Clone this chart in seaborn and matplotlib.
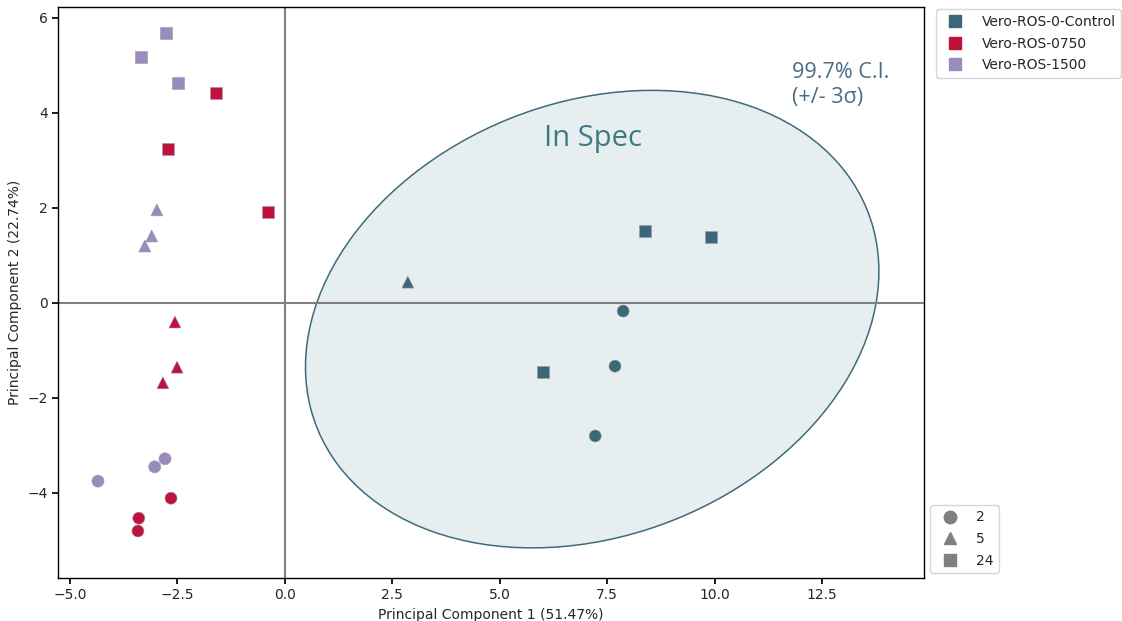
import matplotlib

matplotlib.use("Agg")
import matplotlib.pyplot as plt
import pandas as pd
import seaborn as sns
from matplotlib.lines import Line2D
from matplotlib.patches import Ellipse

sns.set_theme(style="ticks")
plt.rcParams["font.family"] = ["DejaVu Sans"]

# PCA scores
pc1 = [-2.77, -3.35, -2.49, -1.61, -2.72, -0.40,
       -2.98, -3.10, -3.26, -2.56, -2.51, -2.84,
       -4.35, -3.03, -2.79, -2.65, -3.40, -3.42,
       2.86, 8.38, 9.92, 6.01, 7.87, 7.68, 7.22]
pc2 = [5.68, 5.18, 4.63, 4.42, 3.24, 1.92,
       1.96, 1.41, 1.20, -0.40, -1.35, -1.68,
       -3.75, -3.45, -3.28, -4.11, -4.53, -4.80,
       0.44, 1.52, 1.39, -1.45, -0.17, -1.33, -2.80]
groups = (["Vero-ROS-1500"] * 3 + ["Vero-ROS-0750"] * 3
          + ["Vero-ROS-1500"] * 3 + ["Vero-ROS-0750"] * 3
          + ["Vero-ROS-1500"] * 3 + ["Vero-ROS-0750"] * 3
          + ["Vero-ROS-0-Control"] * 7)
hours = ([24] * 6 + [5] * 6 + [2] * 6
         + [5, 24, 24, 24, 2, 2, 2])

group_order = ["Vero-ROS-0-Control", "Vero-ROS-0750", "Vero-ROS-1500"]
group_colors = ["#3b6779", "#c0103c", "#9b8bbd"]
hour_order = [2, 5, 24]
hour_markers = ["o", "^", "s"]

# 99.7% confidence ellipse (centre, full width/height, rotation in degrees)
ell_center = (7.15, -0.34)
ell_width = 13.63
ell_height = 9.22
ell_angle = 16.1

df = pd.DataFrame({"PC1": pc1, "PC2": pc2, "group": groups, "hours": hours})

fig = plt.figure(figsize=(11.22, 6.21), dpi=100)
ax = fig.add_axes([0.0517, 0.0692, 0.7718, 0.9195])

ax.add_patch(Ellipse(ell_center, ell_width, ell_height, angle=ell_angle,
                     facecolor="#e6eef0", edgecolor="#3f6b7d", linewidth=1.1, zorder=1))
ax.axhline(0, color="#808080", linewidth=1.5, zorder=2)
ax.axvline(0, color="#808080", linewidth=1.5, zorder=2)

sns.scatterplot(data=df, x="PC1", y="PC2", hue="group", style="hours",
                hue_order=group_order, palette=group_colors,
                style_order=hour_order, markers=dict(zip(hour_order, hour_markers)),
                s=75, edgecolor="#9a9aa8", linewidth=0.4, legend=False, ax=ax, zorder=3)

ax.text(7.17, 3.47, "In Spec", color="#3d7a85", fontsize=21,
        family=["Open Sans", "DejaVu Sans"], ha="center", va="center")
ax.text(11.8, 5.08, "99.7% C.I.\n(+/- 3σ)", color="#4a6d82", fontsize=15.5,
        family=["Open Sans", "DejaVu Sans"], ha="left", va="top", linespacing=1.25)

ax.set_xlim(-5.28, 14.87)
ax.set_ylim(-5.79, 6.23)
ax.set_xlabel("Principal Component 1 (51.47%)", fontsize=10)
ax.set_ylabel("Principal Component 2 (22.74%)", fontsize=10)
ax.tick_params(labelsize=10, length=4, color="black")
for sp in ax.spines.values():
    sp.set_color("black")
    sp.set_linewidth(1.0)

group_handles = [Line2D([], [], marker="s", linestyle="", color=c, markersize=9)
                 for c in group_colors]
fig.legend(group_handles, group_order, loc="upper left",
           bbox_to_anchor=(0.834, 0.985), fontsize=10, frameon=True,
           handletextpad=0.9, borderaxespad=0.0, labelspacing=0.55)
hour_handles = [Line2D([], [], marker=m, linestyle="", color="#808080", markersize=9)
                for m in hour_markers]
fig.legend(hour_handles, [str(h) for h in hour_order], loc="upper left",
           bbox_to_anchor=(0.829, 0.187), fontsize=10, frameon=True,
           handletextpad=0.9, borderaxespad=0.0, labelspacing=0.55)

fig.savefig("out.png", dpi=100)
plt.close(fig)
